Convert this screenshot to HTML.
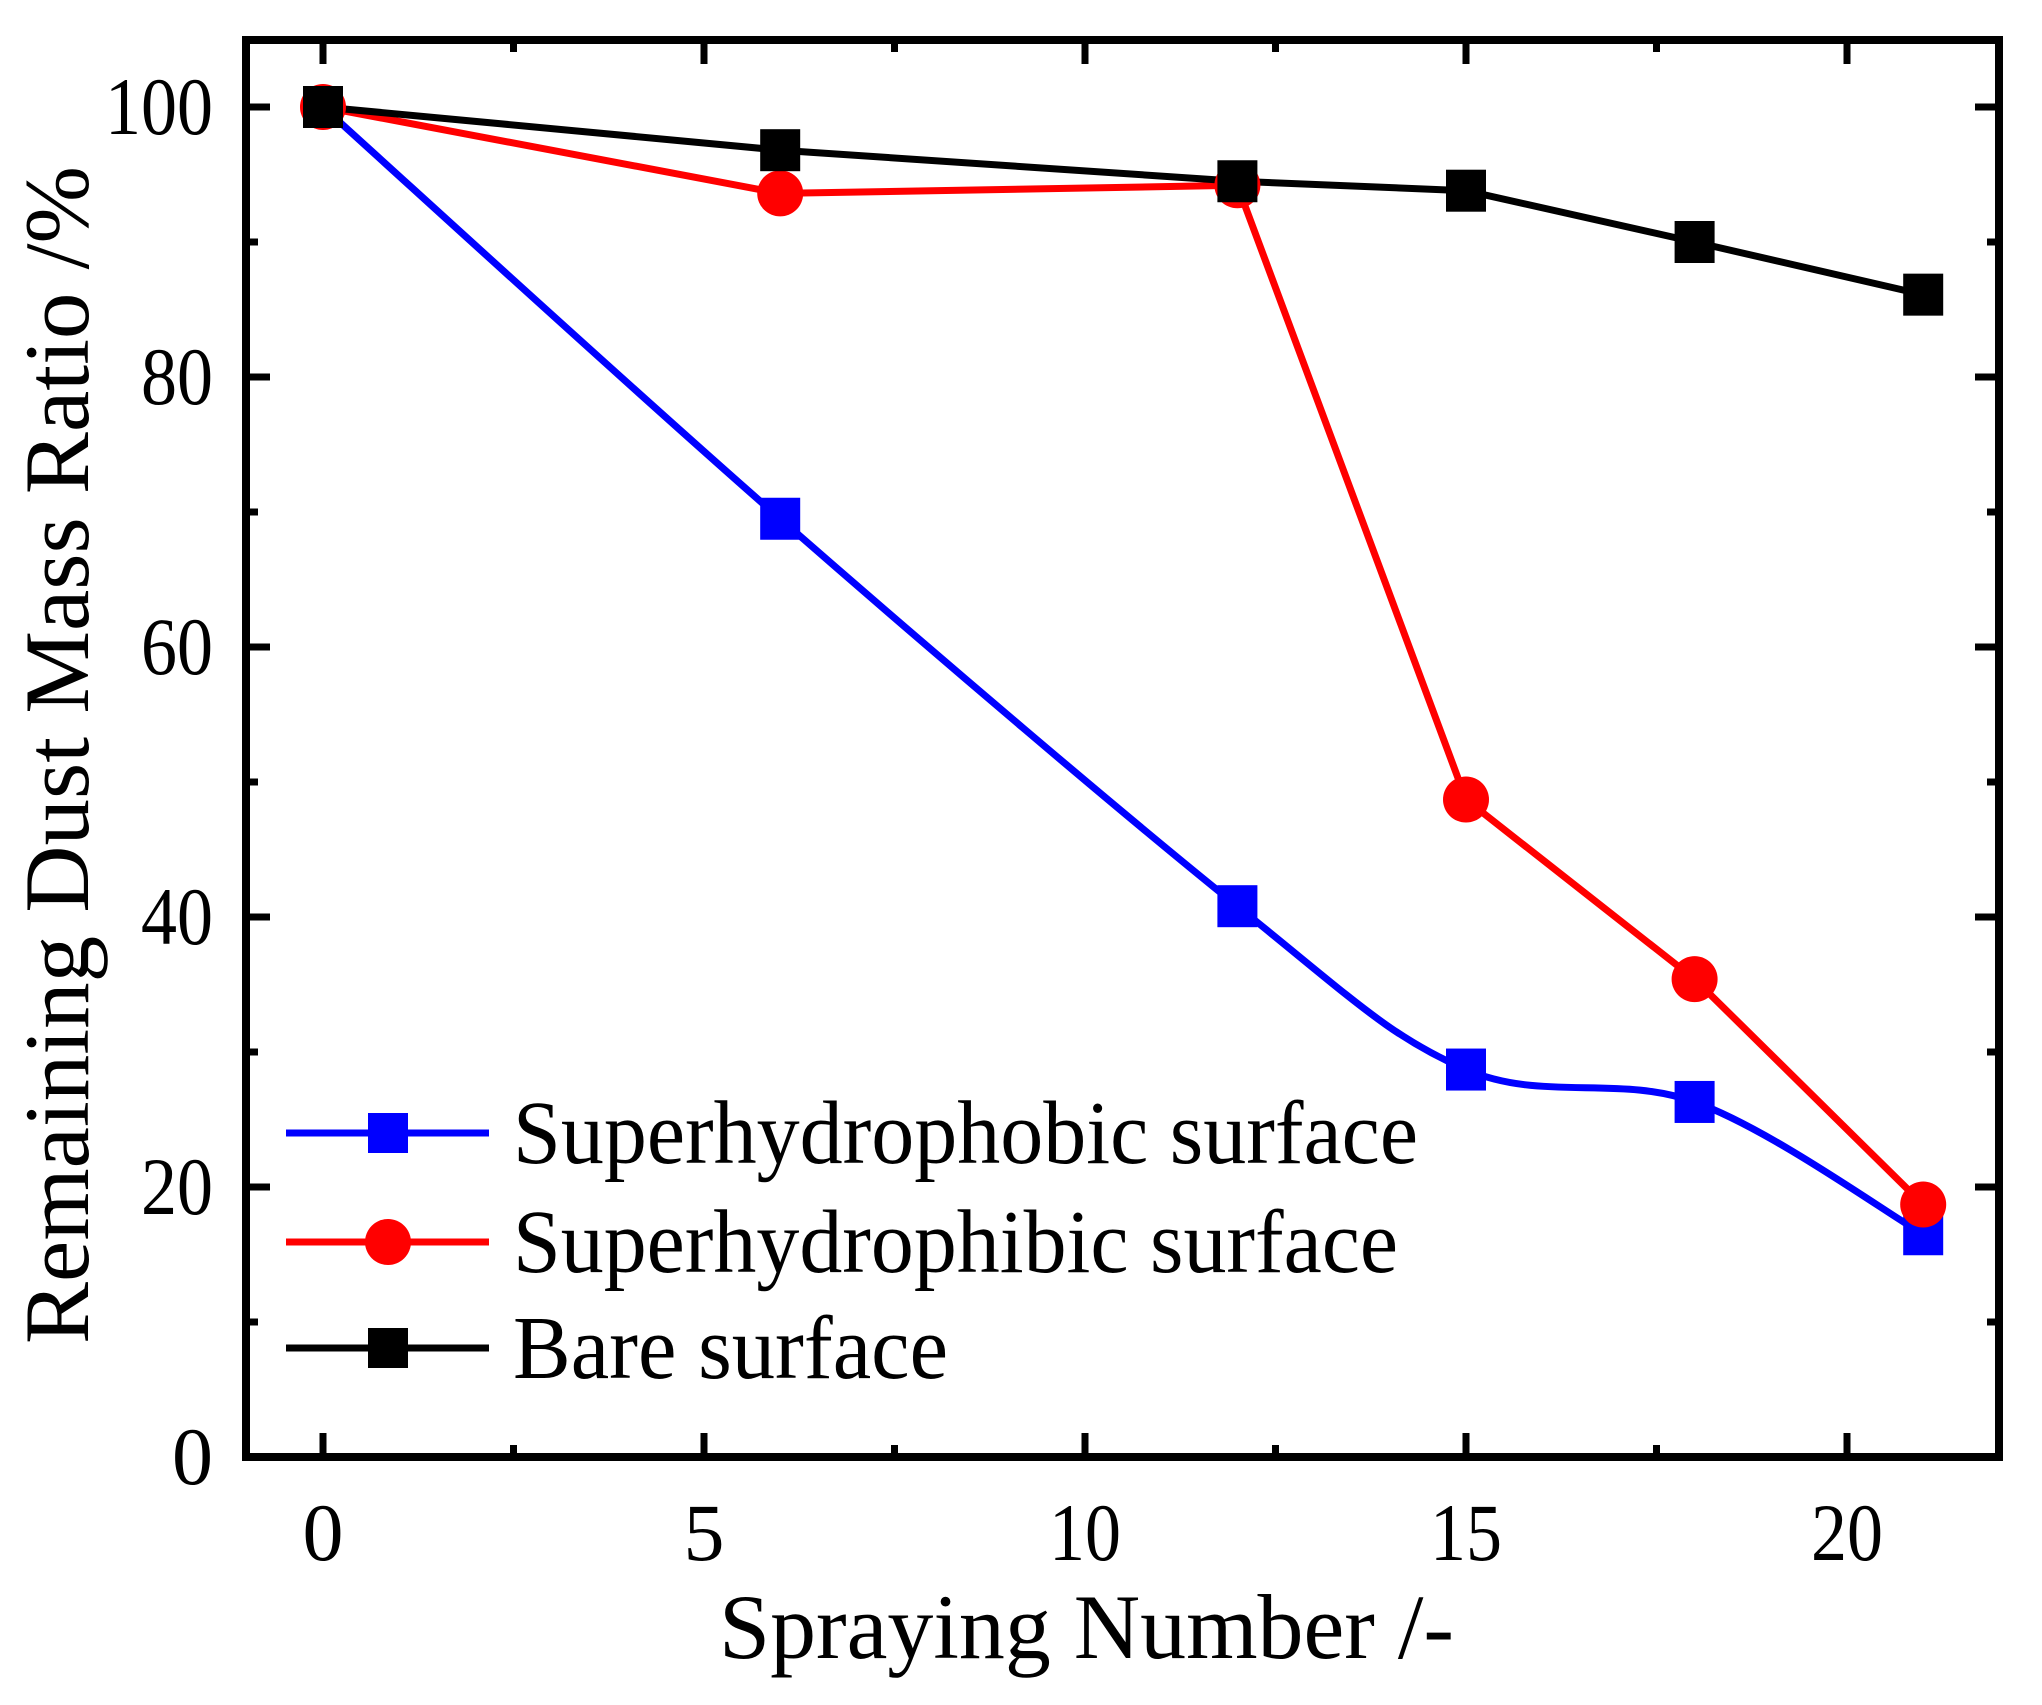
<!DOCTYPE html>
<html><head><meta charset="utf-8">
<style>html,body{margin:0;padding:0;background:#fff}svg{display:block}</style>
</head><body>
<svg width="2042" height="1705" viewBox="0 0 2042 1705" xmlns="http://www.w3.org/2000/svg" font-family="Liberation Serif, serif">
<rect width="2042" height="1705" fill="#fff"/>
<path d="M323,107 C399.2,175.6 627.8,385.55 780.2,518.75 C932.6,651.95 1123.1,814.4 1237.4,906.2 C1351.7,998 1389.8,1036.95 1466,1069.55 C1542.2,1102.15 1618.4,1074.5 1694.6,1101.95 C1770.8,1129.4 1885.1,1212.2 1923.2,1234.25" fill="none" stroke="#00f" stroke-width="7"/>
<polyline points="323,107 780.2,193.4 1237.4,185.3 1466,799.55 1694.6,979.1 1923.2,1204.55" fill="none" stroke="#f00" stroke-width="7" stroke-linejoin="round"/>
<polyline points="323,107 780.2,150.2 1237.4,181.25 1466,190.7 1694.6,242 1923.2,294.65" fill="none" stroke="#000" stroke-width="7" stroke-linejoin="round"/>
<g fill="#00f">
<rect x="303" y="86" width="40" height="42"/><rect x="760.2" y="497.75" width="40" height="42"/><rect x="1217.4" y="885.2" width="40" height="42"/><rect x="1446" y="1048.55" width="40" height="42"/><rect x="1674.6" y="1080.95" width="40" height="42"/><rect x="1903.2" y="1213.25" width="40" height="42"/>
</g>
<g fill="#f00">
<circle cx="323" cy="107" r="23"/><circle cx="780.2" cy="193.4" r="23"/><circle cx="1237.4" cy="185.3" r="23"/><circle cx="1466" cy="799.55" r="23"/><circle cx="1694.6" cy="979.1" r="23"/><circle cx="1923.2" cy="1204.55" r="23"/>
</g>
<g fill="#000">
<rect x="303" y="86" width="40" height="42"/><rect x="760.2" y="129.2" width="40" height="42"/><rect x="1217.4" y="160.25" width="40" height="42"/><rect x="1446" y="169.7" width="40" height="42"/><rect x="1674.6" y="221" width="40" height="42"/><rect x="1903.2" y="273.65" width="40" height="42"/>
</g>
<rect x="246" y="40" width="1753" height="1417" fill="none" stroke="#000" stroke-width="8"/>
<g stroke="#000" stroke-width="7">
<path d="M323,1457v-24M513.5,1457v-12M704,1457v-24M894.5,1457v-12M1085,1457v-24M1275.5,1457v-12M1466,1457v-24M1656.5,1457v-12M1847,1457v-24"/>
<path d="M323,40v24M513.5,40v12M704,40v24M894.5,40v12M1085,40v24M1275.5,40v12M1466,40v24M1656.5,40v12M1847,40v24"/>
<path d="M246,1322h12M246,1187h24M246,1052h12M246,917h24M246,782h12M246,647h24M246,512h12M246,377h24M246,242h12M246,107h24"/>
<path d="M1999,1322h-12M1999,1187h-24M1999,1052h-12M1999,917h-24M1999,782h-12M1999,647h-24M1999,512h-12M1999,377h-24M1999,242h-12M1999,107h-24"/>
</g>
<g font-size="82" fill="#000">
<text x="323" y="1560" text-anchor="middle">0</text>
<text x="704" y="1560" text-anchor="middle">5</text>
<text x="1085" y="1560" text-anchor="middle" textLength="72" lengthAdjust="spacingAndGlyphs">10</text>
<text x="1466" y="1560" text-anchor="middle" textLength="72" lengthAdjust="spacingAndGlyphs">15</text>
<text x="1847" y="1560" text-anchor="middle" textLength="72" lengthAdjust="spacingAndGlyphs">20</text>
<text x="213" y="134" text-anchor="end" textLength="108" lengthAdjust="spacingAndGlyphs">100</text>
<text x="213" y="404" text-anchor="end" textLength="72" lengthAdjust="spacingAndGlyphs">80</text>
<text x="213" y="674" text-anchor="end" textLength="72" lengthAdjust="spacingAndGlyphs">60</text>
<text x="213" y="944" text-anchor="end" textLength="72" lengthAdjust="spacingAndGlyphs">40</text>
<text x="213" y="1214" text-anchor="end" textLength="72" lengthAdjust="spacingAndGlyphs">20</text>
<text x="213" y="1484" text-anchor="end">0</text>
</g>
<text x="719" y="1658" font-size="92" textLength="735" lengthAdjust="spacingAndGlyphs">Spraying Number /-</text>
<text transform="translate(88,1344) rotate(-90)" font-size="92" textLength="1178" lengthAdjust="spacingAndGlyphs">Remaining Dust Mass Ratio /%</text>
<g font-size="90">
<line x1="286" y1="1133" x2="489" y2="1133" stroke="#00f" stroke-width="7"/>
<rect x="368" y="1113" width="40" height="40" fill="#00f"/>
<text x="513" y="1163" textLength="905" lengthAdjust="spacingAndGlyphs">Superhydrophobic surface</text>
<line x1="286" y1="1242" x2="489" y2="1242" stroke="#f00" stroke-width="7"/>
<circle cx="388" cy="1242" r="23" fill="#f00"/>
<text x="513" y="1272" textLength="885" lengthAdjust="spacingAndGlyphs">Superhydrophibic surface</text>
<line x1="286" y1="1348" x2="489" y2="1348" stroke="#000" stroke-width="7"/>
<rect x="368" y="1328" width="40" height="40" fill="#000"/>
<text x="513" y="1378" textLength="435" lengthAdjust="spacingAndGlyphs">Bare surface</text>
</g>
</svg>
</body></html>
